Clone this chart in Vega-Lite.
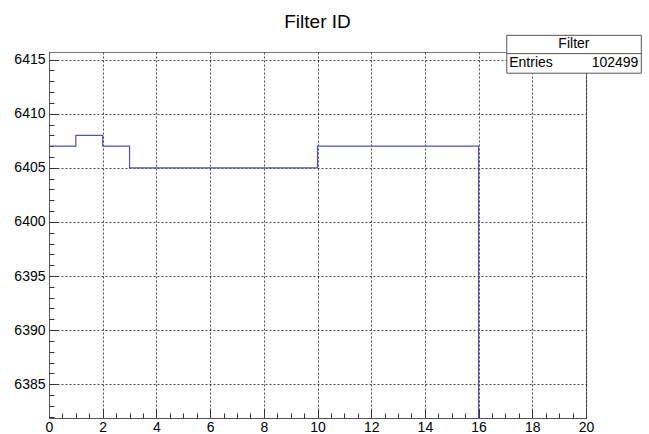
{
  "$schema": "https://vega.github.io/schema/vega-lite/v6.json",
  "autosize": {"type": "none"},
  "padding": {"left": 49, "top": 52, "right": 63, "bottom": 16},
  "width": 537,
  "height": 366,
  "background": "white",
  "title": {"text": "Filter ID", "fontSize": 19, "font": "Liberation Sans", "fontWeight": "normal", "anchor": "middle", "offset": 3, "color": "#000"},
  "config": {
    "view": {"stroke": "#777", "strokeWidth": 1},
    "font": "Liberation Sans"
  },
  "resolve": {"axis": {"x": "independent", "y": "independent"}},
  "layer": [
    {
      "data": {"values": [
        {"bin": 0, "count": 6407},
        {"bin": 1, "count": 6408},
        {"bin": 2, "count": 6407},
        {"bin": 3, "count": 6405},
        {"bin": 10, "count": 6407},
        {"bin": 16, "count": 0},
        {"bin": 20, "count": 0}
      ]},
      "mark": {"type": "line", "interpolate": "step-after", "clip": true, "color": "#5050c4", "strokeWidth": 1.2},
      "encoding": {
        "x": {"field": "bin", "type": "quantitative", "scale": {"domain": [0, 20], "nice": false, "zero": false},
          "axis": {"orient": "bottom", "title": null, "values": [0,2,4,6,8,10,12,14,16,18,20], "grid": true, "gridDash": [2,2], "gridColor": "#000", "gridOpacity": 0.7,
            "tickSize": -9, "tickColor": "#333", "domainColor": "#555", "labelFontSize": 14, "labelColor": "#000", "labelPadding": 11, "labelFlush": false, "format": "d"}},
        "y": {"field": "count", "type": "quantitative", "scale": {"domain": [6381.88, 6415.7], "nice": false, "zero": false},
          "axis": {"orient": "left", "title": null, "values": [6385,6390,6395,6400,6405,6410,6415], "grid": true, "gridDash": [2,2], "gridColor": "#000", "gridOpacity": 0.7,
            "tickSize": -9, "tickColor": "#333", "domainColor": "#555", "labelFontSize": 14, "labelColor": "#000", "labelPadding": 13, "labelFlush": false, "format": "d"}}
      }
    },
    {
      "data": {"values": [{"bin": 0, "count": 6400}, {"bin": 20, "count": 6400}]},
      "mark": {"type": "line", "opacity": 0},
      "encoding": {
        "x": {"field": "bin", "type": "quantitative",
          "axis": {"orient": "bottom", "title": null, "values": [0.5,1,1.5,2.5,3,3.5,4.5,5,5.5,6.5,7,7.5,8.5,9,9.5,10.5,11,11.5,12.5,13,13.5,14.5,15,15.5,16.5,17,17.5,18.5,19,19.5], "grid": false, "labels": false, "domain": false, "tickSize": -5, "tickColor": "#333"}},
        "y": {"field": "count", "type": "quantitative",
          "axis": {"orient": "left", "title": null, "values": [6382,6383,6384,6386,6387,6388,6389,6391,6392,6393,6394,6396,6397,6398,6399,6401,6402,6403,6404,6406,6407,6408,6409,6411,6412,6413,6414], "grid": false, "labels": false, "domain": false, "tickSize": -5, "tickColor": "#333"}}
      }
    },
    {
      "data": {"values": [{"name": "Filter", "entries": 102499}]},
      "layer": [
        {
          "mark": {"type": "rect", "fill": "white", "stroke": "#555", "strokeWidth": 1, "clip": false},
          "encoding": {
            "x": {"datum": 17.05, "type": "quantitative", "axis": null},
            "x2": {"datum": 22.06},
            "y": {"datum": 6417.24, "type": "quantitative", "axis": null},
            "y2": {"datum": 6413.74}
          }
        },
        {
          "mark": {"type": "rule", "stroke": "#555", "strokeWidth": 1, "clip": false},
          "encoding": {
            "x": {"datum": 17.05, "type": "quantitative", "axis": null},
            "x2": {"datum": 22.06},
            "y": {"datum": 6415.55, "type": "quantitative", "axis": null}
          }
        },
        {
          "mark": {"type": "text", "fontSize": 14, "align": "center", "baseline": "middle", "clip": false, "fill": "#000"},
          "encoding": {
            "x": {"datum": 19.55, "type": "quantitative", "axis": null},
            "y": {"datum": 6416.41, "type": "quantitative", "axis": null},
            "text": {"field": "name"}
          }
        },
        {
          "mark": {"type": "text", "fontSize": 14, "align": "left", "baseline": "middle", "clip": false, "fill": "#000"},
          "encoding": {
            "x": {"datum": 17.14, "type": "quantitative", "axis": null},
            "y": {"datum": 6414.66, "type": "quantitative", "axis": null},
            "text": {"value": "Entries"}
          }
        },
        {
          "mark": {"type": "text", "fontSize": 14, "align": "right", "baseline": "middle", "clip": false, "fill": "#000"},
          "encoding": {
            "x": {"datum": 21.95, "type": "quantitative", "axis": null},
            "y": {"datum": 6414.66, "type": "quantitative", "axis": null},
            "text": {"field": "entries", "type": "quantitative", "format": "d"}
          }
        }
      ]
    }
  ]
}
